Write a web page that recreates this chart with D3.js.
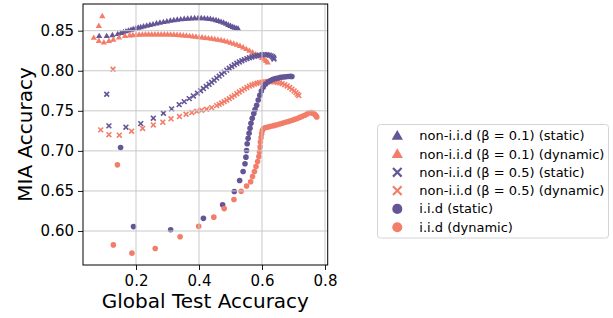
<!DOCTYPE html>
<html>
<head>
<meta charset="utf-8">
<script src="https://cdn.jsdelivr.net/npm/d3@7"></script>
<style>
body { margin: 0; background: #fff; }
svg { display: block; font-family: "DejaVu Sans", sans-serif; }
</style>
</head>
<body>
<svg id="chart" width="613" height="318"></svg>
<script>
var seriesNames = [
    'non-i.i.d (\u03b2 = 0.1) (static)',
    'non-i.i.d (\u03b2 = 0.1) (dynamic)',
    'non-i.i.d (\u03b2 = 0.5) (static)',
    'non-i.i.d (\u03b2 = 0.5) (dynamic)',
    'i.i.d (static)',
    'i.i.d (dynamic)'
];
var xTicks = [0.2, 0.4, 0.6, 0.8];
var yTicks = [0.60, 0.65, 0.70, 0.75, 0.80, 0.85];

// [global test accuracy, MIA accuracy] per round
var nonIid01Static = [
    [0.083,0.8435],[0.107,0.8435],[0.125,0.8446],[0.142,0.846],[0.152,0.8473],[0.160,0.8484],
    [0.168,0.8494],[0.176,0.8504],[0.184,0.8513],[0.191,0.8522],[0.199,0.853],[0.207,0.8539],
    [0.215,0.8547],[0.224,0.8555],[0.234,0.8564],[0.244,0.8573],[0.254,0.8582],[0.265,0.8592],
    [0.276,0.8601],[0.287,0.861],[0.298,0.8618],[0.309,0.8626],[0.320,0.8633],[0.331,0.8639],
    [0.342,0.8644],[0.353,0.8649],[0.364,0.8653],[0.375,0.8656],[0.386,0.8658],[0.397,0.8659],
    [0.407,0.8659],[0.417,0.8657],[0.427,0.8653],[0.436,0.8648],[0.445,0.8641],[0.454,0.8633],
    [0.462,0.8624],[0.470,0.8613],[0.478,0.8601],[0.486,0.8588],[0.493,0.8575],[0.500,0.8562],
    [0.507,0.855],[0.513,0.8539],[0.519,0.8532],[0.524,0.8528]
];
var nonIid01Dynamic = [
    [0.066,0.8413],[0.082,0.8562],[0.093,0.8683],[0.082,0.8375],[0.098,0.8355],[0.114,0.8375],
    [0.128,0.839],[0.146,0.8418],[0.165,0.8436],[0.180,0.8443],[0.190,0.8447],[0.200,0.845],
    [0.210,0.8452],[0.220,0.8454],[0.230,0.8455],[0.240,0.8456],[0.250,0.8456],[0.260,0.8456],
    [0.270,0.8456],[0.280,0.8456],[0.290,0.8455],[0.300,0.8455],[0.310,0.8454],[0.320,0.8452],
    [0.330,0.845],[0.340,0.8447],[0.350,0.8443],[0.360,0.8439],[0.370,0.8435],[0.380,0.8431],
    [0.390,0.8427],[0.400,0.8422],[0.410,0.8417],[0.420,0.8412],[0.430,0.8407],[0.440,0.8402],
    [0.450,0.8396],[0.460,0.839],[0.470,0.8383],[0.480,0.8374],[0.490,0.8364],[0.500,0.8353],
    [0.510,0.8341],[0.520,0.8327],[0.530,0.8311],[0.540,0.8293],[0.550,0.8273],[0.560,0.8252],
    [0.570,0.823],[0.580,0.8207],[0.590,0.8184],[0.600,0.8162],[0.607,0.8144],[0.613,0.8125],
    [0.618,0.8107]
];
var nonIid05Static = [
    [0.107,0.7707],[0.114,0.7312],[0.168,0.7296],[0.215,0.734],[0.255,0.7408],[0.287,0.747],
    [0.313,0.7524],[0.337,0.7577],[0.353,0.7615],[0.369,0.7652],[0.382,0.7686],[0.395,0.772],
    [0.405,0.775],[0.414,0.7778],[0.423,0.7805],[0.432,0.7831],[0.440,0.7856],[0.448,0.7882],
    [0.456,0.7908],[0.464,0.7933],[0.472,0.7958],[0.480,0.7983],[0.488,0.8008],[0.496,0.8031],
    [0.504,0.8053],[0.512,0.8074],[0.520,0.8093],[0.528,0.811],[0.536,0.8125],[0.544,0.8139],
    [0.552,0.8151],[0.560,0.8162],[0.568,0.8172],[0.576,0.8181],[0.584,0.8189],[0.592,0.8195],
    [0.600,0.8199],[0.608,0.8201],[0.616,0.82],[0.623,0.8195],[0.629,0.8186],[0.634,0.8174],
    [0.637,0.816],[0.638,0.8147]
];
var nonIid05Dynamic = [
    [0.088,0.7262],[0.127,0.8019],[0.114,0.7202],[0.147,0.7196],[0.186,0.7246],[0.221,0.728],
    [0.255,0.7324],[0.285,0.7358],[0.311,0.740],[0.338,0.7428],[0.359,0.7457],[0.377,0.7478],
    [0.393,0.7495],[0.408,0.7507],[0.424,0.752],[0.440,0.754],[0.456,0.7565],[0.464,0.758],
    [0.472,0.7598],[0.480,0.7615],[0.488,0.7633],[0.496,0.7652],[0.504,0.7672],[0.512,0.7693],
    [0.520,0.7714],[0.528,0.7735],[0.536,0.7755],[0.544,0.7774],[0.552,0.7792],[0.560,0.7808],
    [0.568,0.7822],[0.576,0.7834],[0.584,0.7844],[0.592,0.7852],[0.600,0.7858],[0.608,0.7862],
    [0.616,0.7864],[0.624,0.7865],[0.632,0.7864],[0.640,0.7861],[0.648,0.7856],[0.656,0.7849],
    [0.664,0.7839],[0.672,0.7826],[0.680,0.781],[0.688,0.7791],[0.695,0.777],[0.702,0.7748],
    [0.708,0.7727],[0.713,0.7707],[0.717,0.769]
];
var iidStatic = [
    [0.151,0.7041],[0.192,0.6055],[0.310,0.6015],[0.414,0.6158],[0.475,0.6327],[0.512,0.6494],
    [0.529,0.663],[0.540,0.6742],[0.546,0.684],[0.549,0.6922],[0.551,0.7005],[0.553,0.709],
    [0.556,0.7158],[0.559,0.722],[0.562,0.7283],[0.565,0.7345],[0.569,0.7408],[0.574,0.7465],
    [0.578,0.7515],[0.583,0.757],[0.588,0.7635],[0.593,0.7695],[0.598,0.7748],[0.604,0.7793],
    [0.611,0.7832],[0.619,0.786],[0.627,0.7879],[0.635,0.7893],[0.643,0.7903],[0.651,0.791],
    [0.659,0.7917],[0.667,0.7922],[0.675,0.7926],[0.683,0.7929],[0.690,0.793],[0.695,0.7928]
];
var iidDynamic = [
    [0.128,0.5827],[0.141,0.6826],[0.187,0.5724],[0.261,0.5782],[0.340,0.5928],[0.399,0.606],
    [0.447,0.6173],[0.480,0.628],[0.511,0.6393],[0.534,0.6496],[0.551,0.6562],[0.564,0.6614],
    [0.570,0.668],[0.576,0.6742],[0.581,0.6805],[0.586,0.6867],[0.590,0.693],[0.592,0.699],
    [0.594,0.705],[0.595,0.711],[0.597,0.7165],[0.599,0.7215],[0.601,0.7255],[0.605,0.7278],
    [0.610,0.7288],[0.616,0.7295],[0.624,0.7303],[0.632,0.731],[0.640,0.7318],[0.648,0.7327],
    [0.656,0.7336],[0.664,0.7345],[0.672,0.7354],[0.680,0.7363],[0.688,0.7372],[0.696,0.7382],
    [0.704,0.7393],[0.712,0.7405],[0.720,0.7418],[0.728,0.7431],[0.736,0.7445],[0.744,0.7462],
    [0.751,0.7475],[0.757,0.7478],[0.762,0.747],[0.767,0.7456],[0.771,0.744],[0.774,0.7423]
];

var purple = '#645596', salmon = '#f37d69';
var series = [
    {name: seriesNames[0], data: nonIid01Static, color: purple, shape: 'triangle'},
    {name: seriesNames[1], data: nonIid01Dynamic, color: salmon, shape: 'triangle'},
    {name: seriesNames[2], data: nonIid05Static, color: purple, shape: 'x'},
    {name: seriesNames[3], data: nonIid05Dynamic, color: salmon, shape: 'x'},
    {name: seriesNames[4], data: iidStatic, color: purple, shape: 'circle'},
    {name: seriesNames[5], data: iidDynamic, color: salmon, shape: 'circle'}
];

var svg = d3.select('#chart');
var plotLeft = 83, plotRight = 327.7, plotTop = 4, plotBottom = 265;

var x = d3.scaleLinear().domain([0.0317, 0.8086]).range([plotLeft, plotRight]);
var y = d3.scaleLinear().domain([0.5576, 0.8833]).range([plotBottom, plotTop]);

// draw one marker of given shape at the origin of g
function marker(g, shape, color, scale) {
    if (shape == 'triangle') {
        g.append('path')
            .attr('d', d3.symbol(d3.symbolTriangle, 17 * scale * scale)())
            .attr('transform', 'translate(0,' + (0.4 * scale) + ')')
            .attr('fill', color);
    } else if (shape == 'x') {
        var a = 2.4 * scale;
        g.append('path')
            .attr('d', 'M' + -a + ',' + -a + 'L' + a + ',' + a + 'M' + -a + ',' + a + 'L' + a + ',' + -a)
            .attr('stroke', color)
            .attr('stroke-width', 1.6 * Math.sqrt(scale))
            .attr('fill', 'none');
    } else {
        g.append('circle')
            .attr('r', 2.8 * scale)
            .attr('fill', color);
    }
}

var plot = svg.append('g');
series.forEach(function(s) {
    plot.append('g').selectAll('g')
        .data(s.data)
        .enter().append('g')
        .attr('transform', function(d) { return 'translate(' + x(d[0]) + ',' + y(d[1]) + ')'; })
        .each(function() { marker(d3.select(this), s.shape, s.color, 1); });
});

// grid drawn above the markers, like matplotlib's default
var grid = svg.append('g').attr('stroke', '#c9c9c9').attr('stroke-width', 1);
grid.selectAll('line.gx').data(xTicks).enter().append('line')
    .attr('x1', x).attr('x2', x).attr('y1', plotTop).attr('y2', plotBottom);
grid.selectAll('line.gy').data(yTicks).enter().append('line')
    .attr('y1', y).attr('y2', y).attr('x1', plotLeft).attr('x2', plotRight);

var xAxis = svg.append('g')
    .attr('transform', 'translate(0,' + plotBottom + ')')
    .call(d3.axisBottom(x).tickValues(xTicks).tickFormat(d3.format('.1f')).tickSize(5).tickPadding(5.3));
var yAxis = svg.append('g')
    .attr('transform', 'translate(' + plotLeft + ',0)')
    .call(d3.axisLeft(y).tickValues(yTicks).tickFormat(d3.format('.2f')).tickSize(5).tickPadding(4));
[xAxis, yAxis].forEach(function(a) {
    a.select('.domain').remove();
    a.selectAll('text').attr('font-size', 15).attr('font-family', 'DejaVu Sans').attr('fill', '#000');
    a.selectAll('line').attr('stroke', '#000').attr('stroke-width', 0.9);
});

svg.append('rect')
    .attr('x', plotLeft).attr('y', plotTop)
    .attr('width', plotRight - plotLeft).attr('height', plotBottom - plotTop)
    .attr('fill', 'none').attr('stroke', '#000').attr('stroke-width', 1);

svg.append('text')
    .attr('x', (plotLeft + plotRight) / 2).attr('y', 308)
    .attr('text-anchor', 'middle').attr('font-size', 20)
    .text('Global Test Accuracy');
svg.append('text')
    .attr('transform', 'translate(32,' + ((plotTop + plotBottom) / 2) + ') rotate(-90)')
    .attr('text-anchor', 'middle').attr('font-size', 20)
    .text('MIA Accuracy');

// legend
var legend = svg.append('g');
legend.append('rect')
    .attr('x', 377.5).attr('y', 124.5).attr('width', 231).attr('height', 113.5)
    .attr('rx', 3).attr('fill', '#fff').attr('stroke', '#d5d5d5').attr('stroke-width', 1);
var rows = legend.selectAll('g.row').data(series).enter().append('g')
    .attr('class', 'row')
    .attr('transform', function(d, i) { return 'translate(397.3,' + (135.7 + i * 18.3) + ')'; });
rows.each(function(d) { marker(d3.select(this), d.shape, d.color, 1.8); });
rows.append('text')
    .attr('x', 22).attr('dy', '0.35em')
    .attr('font-size', 13)
    .text(function(d) { return d.name; });
</script>
</body>
</html>
